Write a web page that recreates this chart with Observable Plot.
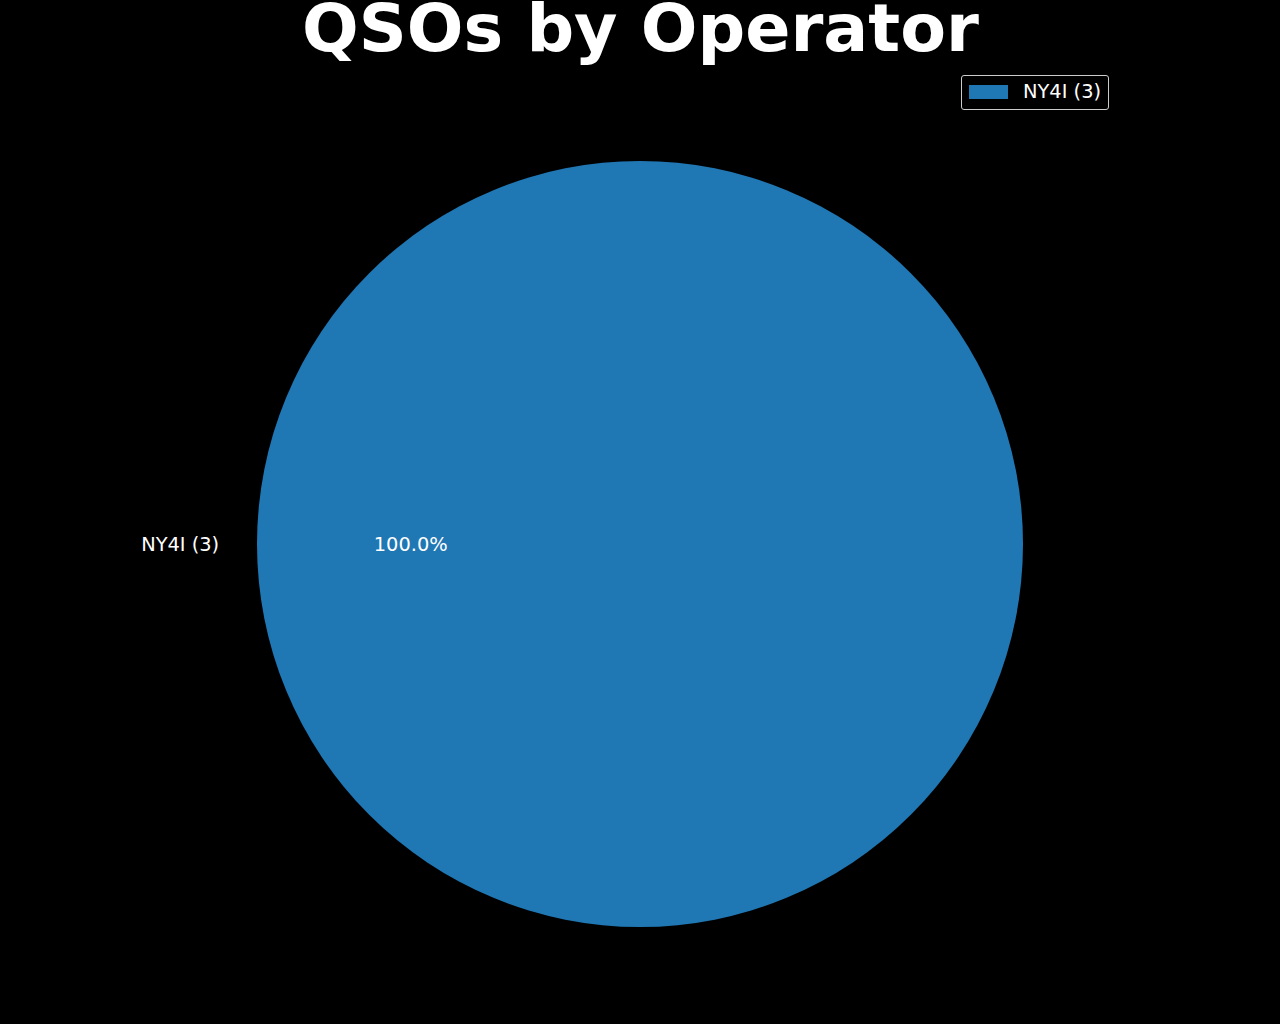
<!DOCTYPE html>
<html>
<head>
<meta charset="utf-8">
<script src="https://cdn.jsdelivr.net/npm/d3@7"></script>
<script src="https://cdn.jsdelivr.net/npm/@observablehq/plot@0.6"></script>
<style>
  html, body { margin: 0; padding: 0; background: #000; }
  #wrap { position: relative; width: 1280px; height: 1024px; background: #000; overflow: hidden; font-family: "DejaVu Sans", sans-serif; }
  #legend { position: absolute; left: 961px; top: 75px; width: 146px; height: 33px; border: 1px solid #cccccc; border-radius: 3px; background: #000; box-sizing: content-box; }
  .item { position: absolute; left: 7px; top: -1px; height: 33px; display: flex; align-items: center; color: #fff; font-size: 19.4px; white-space: nowrap; }
  .sw { display: inline-block; width: 39px; height: 14px; margin-right: 15px; }
</style>
</head>
<body>
<div id="wrap"></div>
<script>
const title = "QSOs by Operator";
const operators = ["NY4I"];
const qsoCounts = [3];
const colors = ["#1f77b4"];

const labels = operators.map((o, i) => `${o} (${qsoCounts[i]})`);
const total = d3.sum(qsoCounts);

// matplotlib-style pie: start at 0 rad (3 o'clock), counterclockwise
const pieGen = d3.pie().sort(null).value(d => d.count)
  .startAngle(Math.PI / 2).endAngle(Math.PI / 2 - 2 * Math.PI);
const rows = operators.map((o, i) => ({op: o, count: qsoCounts[i], label: labels[i], color: colors[i]}));
const arcs = pieGen(rows);
const slices = arcs.map(a => {
  const frac = a.data.count / total;
  const start = rows.slice(0, a.index).reduce((s, r) => s + r.count, 0) / total * 2 * Math.PI;
  const mid = start + frac * Math.PI;
  return {...a.data, frac, mid, a};
});
const leftSlices = slices.filter(d => Math.cos(d.mid) < 0);
const rightSlices = slices.filter(d => Math.cos(d.mid) >= 0);

const pieMark = (index, scales, values, dims) => {
  const cx = scales.x(0), cy = scales.y(0);
  const r = scales.x(1) - scales.x(0);
  const g = d3.create("svg:g").attr("transform", `translate(${cx},${cy})`);
  const arcGen = d3.arc().innerRadius(0).outerRadius(r);
  g.selectAll("path").data(slices).join("path")
    .attr("d", d => arcGen(d.a))
    .attr("fill", d => d.color);
  return g.node();
};

const labelOpts = anchor => ({
  x: d => 1.1 * Math.cos(d.mid),
  y: d => 1.1 * Math.sin(d.mid),
  text: d => d.label,
  textAnchor: anchor,
  lineAnchor: "middle",
  fill: "#fff",
  fontSize: 19.4
});

const plot = Plot.plot({
  width: 1280,
  height: 1024,
  marginLeft: 257,
  marginRight: 257,
  marginTop: 161,
  marginBottom: 97,
  x: {domain: [-1, 1], axis: null},
  y: {domain: [-1, 1], axis: null},
  style: {background: "#000", color: "#fff", fontFamily: "DejaVu Sans, sans-serif", overflow: "visible"},
  marks: [
    pieMark,
    Plot.text(leftSlices, labelOpts("end")),
    Plot.text(rightSlices, labelOpts("start")),
    Plot.text(slices, {
      x: d => 0.6 * Math.cos(d.mid),
      y: d => 0.6 * Math.sin(d.mid),
      text: d => (d.frac * 100).toFixed(1) + "%",
      textAnchor: "middle",
      lineAnchor: "middle",
      fill: "#fff",
      fontSize: 19.4
    }),
    Plot.text([title], {
      frameAnchor: "top",
      lineAnchor: "bottom",
      dy: -111,
      text: d => d,
      fill: "#fff",
      fontSize: 66.7,
      fontWeight: "bold"
    })
  ]
});

const wrap = document.getElementById("wrap");
plot.style.position = "absolute";
plot.style.left = "0";
plot.style.top = "0";
wrap.appendChild(plot);

const legend = document.createElement("div");
legend.id = "legend";
labels.forEach((l, i) => {
  const item = document.createElement("div");
  item.className = "item";
  const sw = document.createElement("span");
  sw.className = "sw";
  sw.style.background = colors[i];
  item.appendChild(sw);
  item.appendChild(document.createTextNode(l));
  legend.appendChild(item);
});
wrap.appendChild(legend);
</script>
</body>
</html>
